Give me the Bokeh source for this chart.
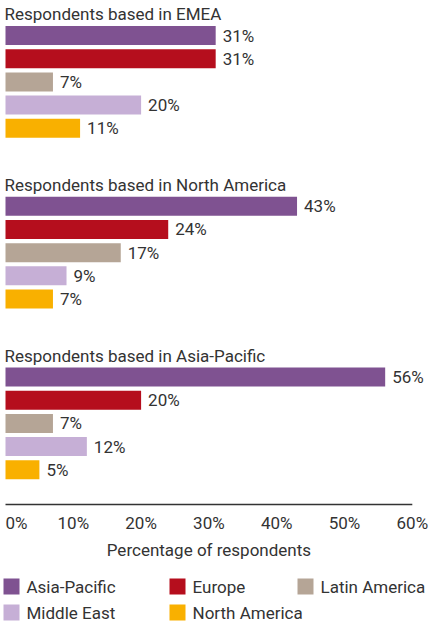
from bokeh.plotting import figure
from bokeh.models import Range1d, ColumnDataSource
from bokeh.embed import file_html
from bokeh.resources import INLINE
from bokeh.core.properties import value

# ---- data ----
group_titles = ["Respondents based in EMEA",
                "Respondents based in North America",
                "Respondents based in Asia-Pacific"]
regions = ["Asia-Pacific", "Europe", "Latin America", "Middle East", "North America"]
emea = [31, 31, 7, 20, 11]
north_america = [43, 24, 17, 9, 7]
asia_pacific = [56, 20, 7, 12, 5]
tick_values = [0, 10, 20, 30, 40, 50, 60]
tick_labels = ["0%", "10%", "20%", "30%", "40%", "50%", "60%"]
axis_title = "Percentage of respondents"
colors = ["#7F5291", "#B50E1D", "#B5A596", "#C6AFD6", "#F9B000"]

# ---- layout ----
W, H = 430, 624
S = 6.78                    # screen pixels per percent
X0 = 5                      # screen x of 0%
def pct(px):
    return (px - X0) / S

FONT = value("Roboto")
TXT = "#333333"
FS = "17px"

p = figure(width=W, height=H, output_backend="svg", toolbar_location=None,
           x_range=Range1d(pct(0), pct(W)), y_range=Range1d(H, 0),
           min_border=0, min_border_left=0, min_border_right=0,
           min_border_top=0, min_border_bottom=0)
p.xaxis.visible = False
p.yaxis.visible = False
p.grid.visible = False
p.outline_line_color = None
p.background_fill_color = "white"
p.border_fill_color = "white"

GROUP_START = 35.0
GROUP_STEP = 170.75
BAR_STEP = 23.2

series = [emea, north_america, asia_pacific]
bx, by, bc, bl = [], [], [], []
tx, ty = [], []
for g, vals in enumerate(series):
    top = GROUP_START + g * GROUP_STEP
    tx.append(0)
    ty.append(top - 21.5)
    for i, v in enumerate(vals):
        bx.append(v)
        by.append(top + i * BAR_STEP)
        bc.append(colors[i])
        bl.append(f"{v}%")

src = ColumnDataSource(dict(x=bx, y=by, c=bc, lab=bl))
p.hbar(y="y", left=0, right="x", height=19, fill_color="c", line_color=None, source=src)
p.text(x="x", y="y", text="lab", source=src, x_offset=7,
       text_font=FONT, text_font_size=FS, text_color=TXT,
       text_baseline="middle", text_align="left")

# group titles
p.text(x=tx, y=ty, text=group_titles, x_offset=-1,
       text_font=FONT, text_font_size=FS, text_color=TXT,
       text_baseline="middle", text_align="left")

# axis line
p.segment(x0=[tick_values[0]], x1=[tick_values[-1]], y0=[504], y1=[504],
          line_color="#333333", line_width=1.5)

# tick labels
p.text(x=tick_values[:1], y=[522], text=tick_labels[:1],
       text_font=FONT, text_font_size=FS, text_color=TXT,
       text_baseline="middle", text_align="left")
p.text(x=tick_values[1:], y=[522] * (len(tick_values) - 1), text=tick_labels[1:],
       text_font=FONT, text_font_size=FS, text_color=TXT,
       text_baseline="middle", text_align="center")

# axis title
p.text(x=[30], y=[549], text=[axis_title],
       text_font=FONT, text_font_size=FS, text_color=TXT,
       text_baseline="middle", text_align="center")

# legend
col_left_px = [3, 169, 297]
row_y = [586, 612]
lx, ly, lc, ltx = [], [], [], []
for k, name in enumerate(regions):
    r, c = divmod(k, 3)
    left = col_left_px[c]
    lx.append(pct(left + 8))
    ly.append(row_y[r])
    lc.append(colors[k])
    ltx.append(pct(left + 23))
p.rect(x=lx, y=ly, width=16, height=16, width_units="screen", height_units="screen",
       fill_color=lc, line_color=None)
p.text(x=ltx, y=ly, text=regions,
       text_font=FONT, text_font_size=FS, text_color=TXT,
       text_baseline="middle", text_align="left")

open("out.html", "w").write(file_html(p, INLINE))
